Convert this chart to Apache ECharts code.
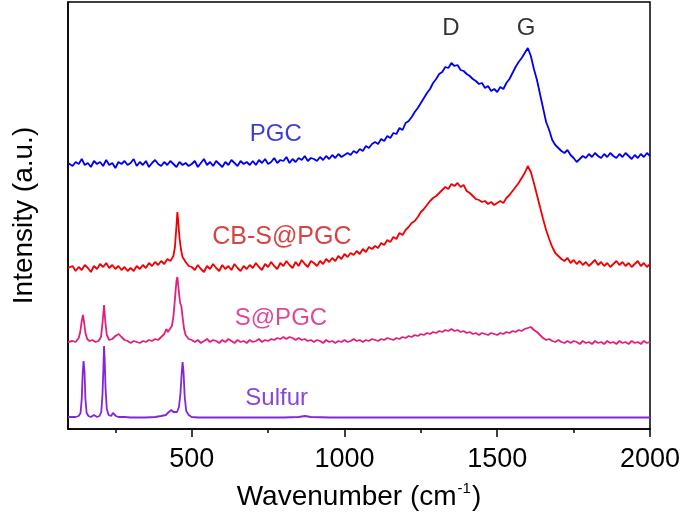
<!DOCTYPE html>
<html>
<head>
<meta charset="utf-8">
<script src="https://cdn.jsdelivr.net/npm/echarts@6/dist/echarts.min.js"></script>
<style>html,body{margin:0;padding:0;background:#fff}#c{width:686px;height:518px}</style>
</head>
<body>
<div id="c"></div>
<script>
// Tick labels
const majorTicks = [500, 1000, 1500, 2000];
const minorTicks = [250, 750, 1250, 1750];

// Series: [wavenumber, intensity (a.u., offset stacked)]
const pgc = [[95,266],[100,268],[110,263],[120,267],[130,265],[140,270],[150,264],[160,266],[170,262],[180,268],[190,265],[200,267],[210,263],[220,269],[230,264],[240,266],[250,261],[260,267],[270,265],[280,268],[290,264],
[300,266],[310,270],[320,263],[330,267],[340,264],[350,268],[360,262],[370,266],[380,269],[390,265],[400,263],[410,267],[420,264],[430,268],[440,265],[450,262],[460,267],[470,264],[480,266],[490,263],
[500,265],[510,268],[520,262],[530,266],[540,270],[550,264],[560,267],[570,263],[580,268],[590,265],[600,262],[610,267],[620,264],[630,269],[640,266],[650,263],[660,268],[670,265],[680,267],[690,264],
[700,268],[710,264],[720,269],[730,266],[740,270],[750,265],[760,267],[770,271],[780,266],[790,269],[800,268],[810,272],[820,266],[830,270],[840,267],[850,271],[860,269],[870,273],[880,268],[890,271],
[900,270],[910,268],[920,272],[930,269],[940,273],[950,270],[960,274],[970,271],[980,275],[990,272],[1000,274],[1010,276],[1020,274],[1030,278],[1040,276],[1050,280],[1060,278],[1070,283],[1080,281],[1090,285],
[1100,287],[1110,285],[1120,290],[1130,288],[1140,293],[1150,291],[1160,296],[1170,295],[1180,301],[1190,299],[1200,306],[1210,308],[1220,312],[1230,317],[1240,321],[1250,326],[1260,331],[1270,336],[1280,340],[1290,346],
[1300,350],[1310,355],[1320,357],[1330,362],[1340,361],[1350,366],[1360,363],[1370,364],[1380,359],[1390,358],[1400,355],[1410,353],[1420,350],[1430,348],[1440,345],[1450,346],[1460,341],[1470,343],[1480,338],[1490,340],
[1500,337],[1510,342],[1520,340],[1530,346],[1540,350],[1550,356],[1560,362],[1570,367],[1580,371],[1590,376],[1600,381],[1610,373],[1620,360],[1630,349],[1640,335],[1650,321],[1660,307],[1670,299],[1680,289],[1690,284],
[1700,281],[1710,278],[1720,276],[1730,279],[1740,274],[1750,271],[1760,267],[1770,270],[1780,273],[1790,271],[1800,275],[1810,272],[1820,276],[1830,273],[1840,271],[1850,275],[1860,272],[1870,276],[1880,273],[1890,271],
[1900,275],[1910,272],[1920,276],[1930,273],[1940,270],[1950,274],[1960,271],[1970,275],[1980,272],[1990,276],[2000,273]];

const cbs = [[95,161],[100,160],[110,163],[120,158],[130,162],[140,159],[150,164],[160,161],[170,157],[180,163],[190,160],[200,165],[210,162],[220,166],[230,161],[240,164],[250,160],[260,163],[270,159],[280,162],[290,158],
[300,161],[310,158],[320,163],[330,160],[340,164],[350,161],[360,166],[370,163],[380,167],[390,164],[400,168],[410,165],[420,170],[430,168],[440,173],[445,182],[450,203],[453,217],[456,207],[460,191],[465,179],[470,172],[480,167],[490,163],
[500,162],[510,159],[520,164],[530,160],[540,157],[550,163],[560,160],[570,165],[580,161],[590,158],[600,164],[610,160],[620,163],[630,159],[640,165],[650,161],[660,158],[670,163],[680,160],[690,164],
[700,161],[710,166],[720,162],[730,159],[740,165],[750,162],[760,167],[770,163],[780,160],[790,166],[800,163],[810,168],[820,164],[830,161],[840,167],[850,163],[860,169],[870,165],[880,162],[890,168],
[900,166],[910,163],[920,168],[930,165],[940,170],[950,167],[960,171],[970,168],[980,173],[990,170],[1000,175],[1010,172],[1020,176],[1030,174],[1040,178],[1050,175],[1060,180],[1070,177],[1080,182],[1090,180],
[1100,183],[1110,181],[1120,186],[1130,184],[1140,189],[1150,187],[1160,192],[1170,190],[1180,196],[1190,194],[1200,199],[1210,202],[1220,206],[1230,208],[1240,212],[1250,217],[1260,220],[1270,224],[1280,228],[1290,231],
[1300,233],[1310,236],[1320,239],[1330,242],[1340,240],[1350,245],[1360,243],[1370,246],[1380,242],[1390,244],[1400,238],[1410,236],[1420,233],[1430,230],[1440,229],[1450,227],[1460,228],[1470,225],[1480,227],[1490,224],
[1500,226],[1510,228],[1520,226],[1530,231],[1540,234],[1550,238],[1560,242],[1570,246],[1580,251],[1590,256],[1600,263],[1605,265],[1610,257],[1620,246],[1630,234],[1640,222],[1650,210],[1660,199],[1670,190],[1680,182],[1690,176],
[1700,173],[1710,170],[1720,168],[1730,171],[1740,166],[1750,169],[1760,165],[1770,168],[1780,164],[1790,167],[1800,163],[1810,166],[1820,169],[1830,164],[1840,167],[1850,163],[1860,166],[1870,162],[1880,165],[1890,168],
[1900,164],[1910,167],[1920,163],[1930,166],[1940,162],[1950,165],[1960,168],[1970,163],[1980,166],[1990,162],[2000,165]];

const spgc = [[95,87],[100,86],[110,88],[120,87],[130,91],[135,97],[140,108],[144,114],[148,106],[152,96],[158,90],[165,88],[175,89],[185,87],[195,88],[203,92],[208,106],[213,124],[217,108],[222,94],[230,89],[240,90],[250,93],[261,95],[270,92],[280,89],[290,88],
[300,86],[310,88],[320,87],[330,86],[340,88],[350,87],[360,89],[370,88],[380,90],[390,89],[400,92],[410,95],[417,100],[422,97],[428,99],[435,103],[440,112],[445,130],[450,148],[453,152],[457,140],[462,126],[466,123],[470,112],[475,100],[480,94],[490,90],
[500,89],[510,87],[520,89],[530,86],[540,88],[550,90],[560,87],[570,89],[580,88],[590,86],[600,89],[610,87],[620,90],[630,88],[640,86],[650,89],[660,87],[670,88],[680,86],[690,89],
[700,87],[710,88],[720,90],[730,87],[740,89],[750,88],[760,90],[770,89],[780,91],[790,90],[800,92],[810,90],[820,92],[830,91],[840,89],[850,91],[860,89],[870,90],[880,88],[890,89],
[900,87],[910,89],[920,88],[930,86],[940,89],[950,87],[960,88],[970,86],[980,88],[990,87],[1000,89],[1010,87],[1020,88],[1030,90],[1040,88],[1050,89],[1060,87],[1070,89],[1080,88],[1090,90],
[1100,89],[1110,88],[1120,90],[1130,89],[1140,91],[1150,90],[1160,89],[1170,91],[1180,90],[1190,92],[1200,91],[1210,93],[1220,92],[1230,94],[1240,93],[1250,95],[1260,94],[1270,96],[1280,95],[1290,97],
[1300,96],[1310,98],[1320,97],[1330,99],[1340,98],[1350,100],[1360,98],[1370,99],[1380,97],[1390,98],[1400,96],[1410,97],[1420,95],[1430,96],[1440,94],[1450,96],[1460,95],[1470,94],[1480,96],[1490,95],
[1500,94],[1510,96],[1520,95],[1530,97],[1540,96],[1550,98],[1560,97],[1570,99],[1580,98],[1590,100],[1600,101],[1610,102],[1620,99],[1630,97],[1640,94],[1650,91],[1660,89],[1670,90],[1680,88],[1690,87],
[1700,89],[1710,87],[1720,86],[1730,88],[1740,86],[1750,88],[1760,87],[1770,85],[1780,88],[1790,86],[1800,87],[1810,85],[1820,88],[1830,86],[1840,87],[1850,85],[1860,88],[1870,86],[1880,87],[1890,85],
[1900,88],[1910,86],[1920,87],[1930,85],[1940,88],[1950,86],[1960,87],[1970,85],[1980,88],[1990,86],[2000,87]];

const sulfur = [[95,12],[100,12],[110,12],[120,12],[130,13],[136,16],[140,30],[143,55],[146,68],[149,58],[152,30],[156,16],[162,13],[170,12],[176,13],[180,14],[184,13],[190,12],[198,13],[204,17],[208,35],[211,62],[213,83],[215,70],[218,40],[222,20],[228,14],[236,13],[242,16],[246,15],[252,13],[260,12],
[280,12],[300,11.5],[350,11.5],[380,12],[400,13],[415,14],[425,17],[433,19],[440,17],[446,16],[452,17],[458,22],[463,35],[467,55],[470,67],[473,58],[477,32],[482,18],[490,14],[500,12],[520,11.5],
[600,11.5],[700,11.5],[800,11.5],[850,12],[870,13],[890,12],[950,11.5],[1200,11.5],[1500,11.5],[1800,11.5],[2000,11.5]];

// Annotations: text, wavenumber, intensity
const labelText = ['PGC', 'CB-S@PGC', 'S@PGC', 'Sulfur', 'D', 'G'];
const labelWn   = [775, 795, 792, 778, 1348, 1594];
const labelI    = [295, 192, 111, 31, 401, 401];

const names = ['PGC', 'CB-S@PGC', 'S@PGC', 'Sulfur'];
const lineColors = ['#0000f0', '#f00000', '#e0207a', '#8424dc'];
const textColors = ['#0c0cc8', '#cc1414', '#d81a7c', '#6c18cc', '#000', '#000'];
const textSizes = [24, 25, 24, 24, 24, 24];

const chart = echarts.init(document.getElementById('c'));
const seriesData = [pgc, cbs, spgc, sulfur];
const FONT = 'Liberation Sans, Arial, sans-serif';

const series = seriesData.map((d, i) => ({
  name: names[i], type: 'line', data: d, xAxisIndex: 0, yAxisIndex: 0,
  showSymbol: false, symbol: 'none', sampling: 'none',
  lineStyle: { color: lineColors[i], width: 1.8 }, z: 10 - i
}));

series.push({
  type: 'scatter', xAxisIndex: 0, yAxisIndex: 0, symbolSize: 0, silent: true,
  data: labelText.map((t, i) => ({
    value: [labelWn[i], labelI[i]],
    label: { show: true, position: 'inside', formatter: t, color: textColors[i], fontSize: textSizes[i], fontFamily: FONT }
  }))
});

chart.setOption({
  animation: false,
  backgroundColor: '#fff',
  grid: { left: 68, right: 36, top: 2, bottom: 89, show: true, borderColor: '#000', borderWidth: 1.5, backgroundColor: 'transparent' },
  xAxis: [{
    type: 'value', min: 95, max: 2000, position: 'bottom',
    axisLine: { show: true, lineStyle: { color: '#000', width: 1.5 } },
    axisTick: { show: true, inside: false, length: 8, customValues: majorTicks, lineStyle: { color: '#000', width: 1.5 } },
    axisLabel: { show: true, customValues: majorTicks, formatter: v => String(v), margin: 17, fontSize: 27, color: '#000', fontFamily: FONT },
    splitLine: { show: false },
    name: '{a|Wavenumber (cm}{s|-1}{a|)}', nameLocation: 'middle', nameGap: 52,
    nameTextStyle: { fontFamily: FONT, rich: {
      a: { fontSize: 28, color: '#000', fontFamily: FONT, lineHeight: 30, verticalAlign: 'bottom' },
      s: { fontSize: 15, color: '#000', fontFamily: FONT, lineHeight: 30, verticalAlign: 'top', padding: [0, 1, 0, 1] }
    } }
  }, {
    type: 'value', min: 95, max: 2000, position: 'bottom', gridIndex: 0,
    axisLine: { show: false },
    axisTick: { show: true, inside: false, length: 4, customValues: minorTicks, lineStyle: { color: '#000', width: 1.5 } },
    axisLabel: { show: false }, splitLine: { show: false }
  }],
  yAxis: {
    type: 'value', min: 0, max: 427,
    axisLine: { show: true, lineStyle: { color: '#000', width: 1.5 } },
    axisTick: { show: false }, axisLabel: { show: false }, splitLine: { show: false },
    name: 'Intensity (a.u.)', nameLocation: 'middle', nameGap: 30, nameRotate: 90,
    nameTextStyle: { fontSize: 28, color: '#000', fontFamily: FONT }
  },
  series: series
});
</script>
</body>
</html>
